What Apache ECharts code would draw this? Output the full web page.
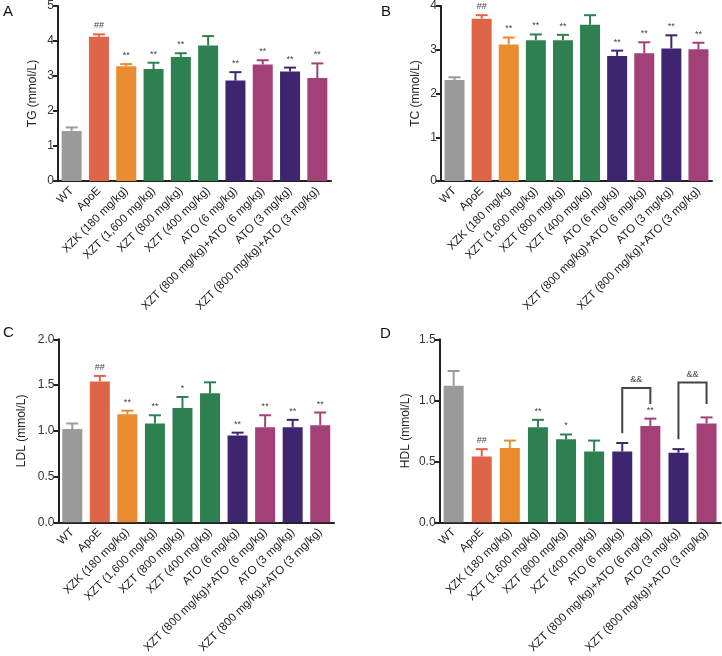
<!DOCTYPE html>
<html>
<head>
<meta charset="utf-8">
<script src="https://cdn.jsdelivr.net/npm/echarts@6/dist/echarts.min.js"></script>
<style>
  html, body { margin: 0; padding: 0; background: #fff; }
  #main { width: 722px; height: 656px; }
</style>
</head>
<body>
<div id="main"></div>
<script>
function $(id) {return document.getElementById(id)}

var categories = ['WT', 'ApoE', 'XZK (180 mg/kg)', 'XZT (1,600 mg/kg)', 'XZT (800 mg/kg)',
  'XZT (400 mg/kg)', 'ATO (6 mg/kg)', 'XZT (800 mg/kg)+ATO (6 mg/kg)', 'ATO (3 mg/kg)',
  'XZT (800 mg/kg)+ATO (3 mg/kg)'];
// panel B has a slightly different third label
var categoriesB = ['WT', 'ApoE', 'XZK (180 mg/kg', 'XZT (1,600 mg/kg)', 'XZT (800 mg/kg)',
  'XZT (400 mg/kg)', 'ATO (6 mg/kg)', 'XZT (800 mg/kg)+ATO (6 mg/kg)', 'ATO (3 mg/kg)',
  'XZT (800 mg/kg)+ATO (3 mg/kg)'];

var barColors = ['#9a9a9a', '#df6549', '#ea8b30', '#2f8051', '#2f8051', '#2f8051',
  '#3e2570', '#a34077', '#3e2570', '#a34077'];

// A: TG
var tgMean = [1.43, 4.12, 3.28, 3.20, 3.54, 3.87, 2.87, 3.33, 3.13, 2.94];
var tgErr  = [0.10, 0.07, 0.06, 0.18, 0.11, 0.27, 0.24, 0.12, 0.11, 0.42];
var tgSig  = ['', '##', '**', '**', '**', '', '**', '**', '**', '**'];
// B: TC
var tcMean = [2.31, 3.71, 3.12, 3.22, 3.22, 3.57, 2.86, 2.92, 3.03, 3.01];
var tcErr  = [0.06, 0.08, 0.16, 0.13, 0.12, 0.22, 0.12, 0.25, 0.30, 0.15];
var tcSig  = ['', '##', '**', '**', '**', '', '**', '**', '**', '**'];
// C: LDL
var ldlMean = [1.02, 1.54, 1.18, 1.08, 1.25, 1.41, 0.95, 1.04, 1.04, 1.06];
var ldlErr  = [0.06, 0.06, 0.04, 0.09, 0.12, 0.12, 0.03, 0.13, 0.08, 0.14];
var ldlSig  = ['', '##', '**', '**', '*', '', '**', '**', '**', '**'];
// D: HDL
var hdlMean = [1.12, 0.54, 0.61, 0.78, 0.68, 0.58, 0.58, 0.79, 0.57, 0.81];
var hdlErr  = [0.12, 0.06, 0.06, 0.06, 0.04, 0.09, 0.07, 0.06, 0.03, 0.05];
var hdlSig  = ['', '##', '', '**', '*', '', '', '**', '', ''];
// D brackets: from, to, top, left leg end, right leg end
var bracketFrom  = [6, 8];
var bracketTo    = [7, 9];
var bracketTop   = [1.10, 1.145];
var bracketLeft  = [0.73, 0.68];
var bracketRight = [0.97, 0.97];
var bracketText  = ['&&', '&&'];

var FONT = 'Liberation Sans, Arial, sans-serif';
var AXIS = '#222';

var grids = [
  {left: 58, top: 6, width: 273, height: 175},
  {left: 441, top: 6, width: 271, height: 175},
  {left: 58.5, top: 339.3, width: 275.5, height: 183.4},
  {left: 439.6, top: 339.3, width: 281, height: 183.4}
];

function xAxisFor(idx, cats) {
  return {
    type: 'category', gridIndex: idx, data: cats,
    axisLine: {lineStyle: {color: AXIS, width: 2}},
    axisTick: {alignWithLabel: true, length: 5, lineStyle: {color: AXIS, width: 2}},
    axisLabel: {rotate: 45, margin: 8, fontSize: 11.6, color: '#222', fontFamily: FONT, interval: 0}
  };
}

function yAxisFor(idx, name, max, interval, digits, gap) {
  return {
    type: 'value', gridIndex: idx, min: 0, max: max, interval: interval,
    name: name, nameLocation: 'middle', nameGap: gap,
    nameTextStyle: {fontSize: 12, color: '#222', fontFamily: FONT},
    axisLine: {show: true, lineStyle: {color: AXIS, width: 2}},
    axisTick: {show: true, length: 5, lineStyle: {color: AXIS, width: 2}},
    splitLine: {show: false},
    axisLabel: {fontSize: 12, color: '#333', fontFamily: FONT, margin: 4,
      formatter: function (v) { return v.toFixed(digits); }}
  };
}

function barSeries(idx, means) {
  return {
    type: 'bar', xAxisIndex: idx, yAxisIndex: idx, barWidth: 20, z: 2,
    data: means.map(function (m, i) { return {value: m, itemStyle: {color: barColors[i]}}; })
  };
}

function errorSeries(idx, means, errs, sig) {
  return {
    type: 'custom', xAxisIndex: idx, yAxisIndex: idx, z: 3,
    data: means.map(function (m, i) { return [i, m, m + errs[i]]; }),
    renderItem: function (params, api) {
      var i = api.value(0);
      var lo = api.coord([i, api.value(1)]);
      var hi = api.coord([i, api.value(2)]);
      var c = barColors[i];
      return {type: 'group', children: [
        {type: 'line', shape: {x1: lo[0], y1: lo[1], x2: hi[0], y2: hi[1]}, style: {stroke: c, lineWidth: 2}},
        {type: 'line', shape: {x1: hi[0] - 6, y1: hi[1], x2: hi[0] + 6, y2: hi[1]}, style: {stroke: c, lineWidth: 2}},
        {type: 'text', style: {text: sig[i], x: hi[0], y: hi[1] - 4, align: 'center', verticalAlign: 'bottom',
          fill: '#444', font: '9px ' + FONT}}
      ]};
    }
  };
}

var bracketSeries = {
  type: 'custom', xAxisIndex: 3, yAxisIndex: 3, z: 4,
  data: bracketFrom.map(function (f, k) { return [f, bracketTo[k], bracketTop[k], bracketLeft[k], bracketRight[k]]; }),
  renderItem: function (params, api) {
    var k = params.dataIndex;
    var a = api.coord([api.value(0), api.value(3)]);
    var b = api.coord([api.value(0), api.value(2)]);
    var c = api.coord([api.value(1), api.value(2)]);
    var d = api.coord([api.value(1), api.value(4)]);
    return {type: 'group', children: [
      {type: 'polyline', shape: {points: [a, b, c, d]}, style: {stroke: '#444', lineWidth: 2, fill: null}},
      {type: 'text', style: {text: bracketText[k], x: (b[0] + c[0]) / 2, y: b[1] - 4, align: 'center',
        verticalAlign: 'bottom', fill: '#444', font: '9px ' + FONT}}
    ]};
  }
};

var panelLabels = [['A', 3, 4], ['B', 381, 4], ['C', 3, 325], ['D', 380, 326]];

var chart = echarts.init($('main'));
chart.setOption({
  animation: false,
  backgroundColor: '#fff',
  graphic: panelLabels.map(function (p) {
    return {type: 'text', left: p[1], top: p[2], style: {text: p[0], font: '15px ' + FONT, fill: '#111'}};
  }),
  grid: grids,
  xAxis: [xAxisFor(0, categories), xAxisFor(1, categoriesB), xAxisFor(2, categories), xAxisFor(3, categories)],
  yAxis: [
    yAxisFor(0, 'TG (mmol/L)', 5, 1, 0, 19),
    yAxisFor(1, 'TC (mmol/L)', 4, 1, 0, 19),
    yAxisFor(2, 'LDL (mmol/L)', 2, 0.5, 1, 31),
    yAxisFor(3, 'HDL (mmol/L)', 1.5, 0.5, 1, 28)
  ],
  series: [
    barSeries(0, tgMean), errorSeries(0, tgMean, tgErr, tgSig),
    barSeries(1, tcMean), errorSeries(1, tcMean, tcErr, tcSig),
    barSeries(2, ldlMean), errorSeries(2, ldlMean, ldlErr, ldlSig),
    barSeries(3, hdlMean), errorSeries(3, hdlMean, hdlErr, hdlSig),
    bracketSeries
  ]
});
</script>
</body>
</html>
